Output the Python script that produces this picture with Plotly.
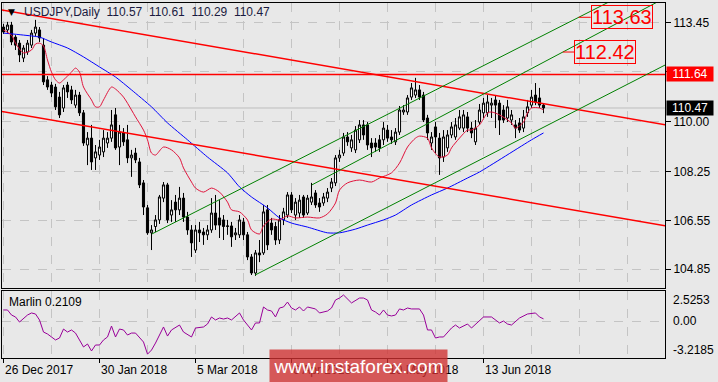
import plotly.graph_objects as go

# ---------------- data ----------------
opens = [113.29,113.19,113.36,112.94,112.73,112.21,112.42,112.66,113.08,113.19,
         112.66,111.45,111.27,111.20,110.85,110.47,111.27,111.10,110.57,110.92,
         110.30,109.18,109.42,108.73,108.83,108.94,109.25,109.42,110.23,109.11,
         109.60,109.36,108.73,108.90,108.59,107.86,106.99,106.12,106.34,106.57,
         107.33,107.79,106.74,107.19,106.92,107.33,106.67,106.22,105.52,106.22,
         106.15,106.05,106.22,106.81,106.64,106.57,106.34,106.36,106.05,106.05,
         106.50,106.05,105.28,104.72,105.42,105.42,106.92,106.46,106.34,105.87,
         106.57,106.74,107.44,106.74,106.81,107.37,106.81,107.19,107.51,107.16,
         107.16,107.33,107.68,107.86,108.73,108.90,109.46,109.08,109.01,109.36,
         109.88,109.88,109.25,109.25,109.36,109.36,109.70,109.46,109.29,109.63,
         110.33,110.33,110.85,110.92,111.10,110.92,110.12,109.25,109.81,109.42,
         108.76,109.08,109.53,109.46,109.77,109.77,110.16,109.77,109.29,109.98,
         110.30,110.30,110.57,110.75,110.64,110.40,110.12,110.05,109.88,109.95,
         109.77,110.30,110.57,110.92,110.82,110.57]
highs = [113.40,113.47,113.47,113.01,112.84,112.66,112.84,113.19,113.54,113.29,
         112.91,111.58,111.38,111.31,111.03,111.27,111.38,111.24,111.10,111.03,
         110.40,109.63,109.88,109.18,109.36,109.70,109.63,110.40,110.47,109.88,
         109.77,109.88,109.01,109.08,108.73,107.96,107.09,106.39,106.74,107.44,
         107.89,107.86,107.26,107.44,107.72,107.51,106.85,106.39,106.39,106.50,
         106.29,106.39,107.33,107.44,107.26,106.74,106.57,106.50,106.29,106.74,
         106.64,106.15,105.38,105.52,105.87,107.09,107.09,106.64,106.50,106.74,
         106.99,107.54,107.54,107.33,107.44,107.44,107.44,107.86,107.61,107.33,
         107.51,107.68,108.03,108.83,109.01,109.60,109.63,109.53,109.84,110.05,
         110.05,109.98,109.42,109.42,109.53,109.98,109.88,109.70,109.77,110.54,
         110.57,110.92,111.34,111.52,111.27,111.03,110.23,109.63,109.98,109.60,
         109.70,109.70,109.98,110.12,110.40,110.40,110.33,109.98,110.05,110.61,
         110.82,110.92,110.82,110.92,110.75,110.57,110.75,110.40,110.05,110.12,
         110.40,110.75,111.10,111.34,111.17,110.61]
lows = [113.05,113.08,112.66,112.49,112.07,112.07,112.32,112.56,112.98,112.77,
        111.27,111.10,110.85,110.40,110.12,110.33,110.82,110.61,110.47,110.19,
        109.15,108.48,108.31,108.31,108.66,108.76,109.08,109.29,109.01,108.48,
        109.15,108.55,108.07,108.55,107.68,106.74,106.05,105.52,106.15,106.43,
        107.19,106.46,106.50,106.50,106.74,106.50,106.05,105.28,105.42,105.80,
        105.70,105.87,106.12,106.22,105.94,105.87,106.05,105.63,105.87,105.94,
        105.87,105.17,104.65,104.62,105.10,105.35,105.52,106.05,105.70,105.73,
        106.39,106.64,106.81,106.57,106.64,106.64,106.74,107.09,106.99,106.85,
        107.06,107.19,107.54,107.75,108.59,108.80,109.15,108.94,108.90,109.25,
        109.36,109.01,108.76,108.94,108.94,109.18,109.29,109.22,109.18,109.53,
        110.23,110.23,110.75,110.82,110.75,109.98,109.36,109.01,108.90,108.14,
        108.59,108.94,109.42,109.36,109.70,109.63,109.63,109.42,109.18,109.88,
        110.12,110.16,110.12,109.77,109.53,109.95,109.98,109.88,109.42,109.60,
        109.63,110.16,110.47,110.57,110.47,110.29]
closes = [113.12,113.36,112.77,112.66,112.32,112.56,112.73,113.08,113.29,112.91,
          111.38,111.20,110.99,110.51,110.23,111.17,111.03,110.75,110.92,110.30,
          109.25,109.42,108.59,108.94,109.11,109.42,109.42,109.88,109.08,109.63,
          109.29,108.73,108.83,108.66,107.79,107.02,106.12,106.22,106.57,107.37,
          107.79,106.57,106.92,106.92,107.33,106.67,106.22,105.77,106.22,106.12,
          106.05,106.22,106.81,106.39,106.39,106.34,106.36,105.98,106.12,106.57,
          106.05,105.28,104.72,105.42,105.35,106.85,105.70,106.22,105.87,106.57,
          106.85,107.44,106.92,107.19,107.26,106.74,107.33,107.37,107.09,107.02,
          107.37,107.54,107.89,108.73,108.83,109.46,109.29,109.36,109.70,109.88,
          109.53,109.18,109.08,109.11,109.08,109.77,109.42,109.36,109.63,110.40,
          110.40,110.82,111.17,111.10,110.85,110.05,109.60,109.46,109.46,108.73,
          109.46,109.53,109.81,109.88,110.16,110.23,109.77,109.60,109.77,110.40,
          110.64,110.68,110.64,110.57,110.05,110.05,110.51,110.23,109.77,109.70,
          110.16,110.51,110.85,110.68,110.57,110.47]
bars = list(range(len(opens)))

ma_fast_idx = [0,2,3,5,7,8,9,10,11,12,13,14,15,17,18,19,20,22,23,24,25,27,28,30,32,33,35,36,37,38,
               40,42,44,45,47,48,50,52,54,56,57,59,61,62,64,65,67,69,71,73,76,79,81,83,84,86,89,92,94,97,
               99,101,103,104,106,107,109,111,112,114,116,117,119,121,122,124,127,128,130,131,132,134,135]
ma_fast = [113.19,113.01,112.73,112.39,112.49,112.70,112.73,112.63,112.14,111.72,
           111.45,111.34,111.45,111.72,111.86,111.72,111.20,110.75,110.51,110.51,
           110.75,111.20,111.13,110.85,110.40,110.16,109.70,109.36,108.90,108.83,
           109.11,109.01,108.73,108.38,107.89,107.68,107.54,107.68,107.54,107.19,
           106.92,106.85,106.57,106.22,106.08,106.36,106.60,106.57,106.71,106.64,
           106.67,106.64,106.78,107.16,107.61,107.86,107.96,107.89,108.03,108.21,
           108.55,109.11,109.42,109.49,109.42,109.08,108.76,108.83,109.08,109.42,
           109.70,109.70,109.88,110.30,110.33,110.23,109.95,109.77,109.98,110.30,
           110.47,110.47,110.40]

ma_slow_idx = [0,5,9,12,16,20,24,28,32,37,41,46,51,56,59,62,66,69,72,76,81,84,88,91,95,98,102,107,111,116,119,132,135]
ma_slow = [113.08,113.01,112.94,112.77,112.56,112.25,111.90,111.55,111.10,110.51,
           109.95,109.36,108.76,108.21,107.72,107.37,106.99,106.64,106.46,106.32,
           106.12,106.12,106.25,106.39,106.57,106.74,107.09,107.44,107.68,108.03,
           108.24,109.36,109.60]

marlin_idx = [0,1,2,3,4,5,6,7,8,9,10,11,12,13,14,15,16,17,18,
              20,21,22,23,24,25,26,27,28,29,30,31,32,33,35,36,37,38,40,41,42,44,45,47,48,
              50,51,52,53,54,55,56,57,59,60,62,63,64,65,66,67,68,69,70,71,72,73,74,75,76,
              78,79,81,82,83,84,85,87,89,90,91,92,93,94,95,96,97,98,99,100,101,102,
              104,105,106,107,108,109,110,112,113,114,116,117,118,119,120,
              122,123,124,125,126,127,128,129,131,133,134,135]
marlin = [1.07,1.07,0.58,0.39,-0.10,0.29,0.58,0.78,0.68,0.10,-1.07,-1.26,-1.55,-1.84,-1.65,-0.78,-1.07,-0.87,-1.17,
          -2.52,-2.23,-2.91,-2.33,-2.33,-1.84,-1.55,-0.49,-1.55,-0.78,-0.87,-1.36,-1.17,-1.17,
          -2.04,-3.2185,-2.82,-2.14,-0.58,-1.46,-0.87,-0.39,-1.07,-1.55,-0.68,
          -0.58,-0.29,0.39,0.10,0.29,0.19,0.29,0.10,0.78,0.10,
          -0.87,-0.19,-0.19,1.36,1.07,0.97,0.39,1.26,1.36,1.84,1.26,1.07,1.36,0.97,1.36,
          1.17,0.78,0.97,1.26,2.04,2.23,2.5253,1.75,
          2.23,2.23,2.04,1.07,0.87,0.58,1.07,0.58,0.49,0.58,1.17,1.07,1.26,1.17,
          1.17,0.58,-0.87,-0.87,-1.65,-1.55,-1.55,-0.68,-0.39,-0.68,
          -0.29,-0.68,-0.29,0.10,0.39,0.39,0.10,-0.19,0.00,-0.29,-0.39,0.00,0.29,
          0.68,0.78,0.39,0.2109]

# drawn objects: (start bar, start price, end bar, end price)
red_upper = (-1.0, 113.90, 166.0, 109.87)
red_lower = (-1.0, 110.36, 166.0, 106.35)
green_lines = [(37.1, 106.08, 152.0, 114.21),
               (77.1, 107.79, 166.0, 114.35),
               (62.9, 104.65, 166.0, 112.01)]
resistance = 111.64
target_prices = [113.63, 112.42]
target_bar = [154.5, 150.4]
target_line = [0, 1]          # which green line each target belongs to

date_ticks = [0, 24, 48, 72, 96, 120]
date_labels = ["26 Dec 2017", "30 Jan 2018", "5 Mar 2018", "6 Apr 2018", "10 May 2018", "13 Jun 2018"]
grid_bars = list(range(0, 157, 12))
price_ticks = [113.45, 111.725, 110.00, 108.25, 106.55, 104.85]
price_labels = ["113.45", "", "110.00", "108.25", "106.55", "104.85"]
marlin_ticks = [2.5253, 0.00, -3.2185]
marlin_labels = ["2.5253", "0.00", "-3.2185"]

title = "USDJPY,Daily\u00a0\u00a0110.57\u00a0\u00a0110.61\u00a0\u00a0110.29\u00a0\u00a0110.47"

# ---------------- figure ----------------
BG = "#e8e8e8"
GRID = "#c4c4c4"
FONT = "Liberation Sans, Arial, sans-serif"

fig = go.Figure()

fig.add_trace(go.Candlestick(
    x=bars, open=opens, high=highs, low=lows, close=closes,
    increasing=dict(line=dict(color="black", width=1), fillcolor="white"),
    decreasing=dict(line=dict(color="black", width=1), fillcolor="black"),
    whiskerwidth=0, xaxis="x", yaxis="y", hoverinfo="skip"))

fig.add_trace(go.Scatter(x=ma_slow_idx, y=ma_slow, mode="lines",
                         line=dict(color="#0000ff", width=1, shape="spline", smoothing=0.6),
                         xaxis="x", yaxis="y"))
fig.add_trace(go.Scatter(x=ma_fast_idx, y=ma_fast, mode="lines",
                         line=dict(color="#e0143c", width=1, shape="spline", smoothing=0.8),
                         xaxis="x", yaxis="y"))

for (x0, y0, x1, y1) in [red_upper, red_lower]:
    fig.add_trace(go.Scatter(x=[x0, x1], y=[y0, y1], mode="lines",
                             line=dict(color="#ff0000", width=1.5), xaxis="x", yaxis="y"))
fig.add_trace(go.Scatter(x=[-1, 170], y=[resistance, resistance], mode="lines",
                         line=dict(color="#ff0000", width=1.5), xaxis="x", yaxis="y"))
for (x0, y0, x1, y1) in green_lines:
    fig.add_trace(go.Scatter(x=[x0, x1], y=[y0, y1], mode="lines",
                             line=dict(color="#008000", width=1), xaxis="x", yaxis="y"))

# connectors from the channel lines to the target boxes
half_box = 7.7
for p, b, li in zip(target_prices, target_bar, target_line):
    x0, y0, x1, y1 = green_lines[li]
    xs = x0 + (p - y0) * (x1 - x0) / (y1 - y0)
    fig.add_trace(go.Scatter(x=[xs, b - half_box], y=[p, p], mode="lines",
                             line=dict(color="#ff0000", width=1), xaxis="x", yaxis="y"))

fig.add_trace(go.Scatter(x=marlin_idx, y=marlin, mode="lines",
                         line=dict(color="#990099", width=1), xaxis="x2", yaxis="y2"))

# bid line
fig.add_shape(type="line", xref="x", yref="y", x0=-1, x1=170, y0=closes[-1], y1=closes[-1],
              line=dict(color="#bdbdbd", width=1), layer="below")

ann = []
for p, b in zip(target_prices, target_bar):
    ann.append(dict(x=b, y=p, xref="x", yref="y", text=f"{p:.2f}", showarrow=False,
                    font=dict(family=FONT, size=20, color="#ff0000"),
                    bordercolor="#ff0000", borderwidth=1, borderpad=0,
                    xanchor="center", yanchor="middle"))
ann.append(dict(x=1, y=resistance, xref="paper", yref="y", text=f"{resistance:.2f}",
                showarrow=False, font=dict(family=FONT, size=12, color="white"),
                bgcolor="#ff0000", xanchor="left", yanchor="middle", xshift=1,
                width=46, height=14, borderpad=0))
ann.append(dict(x=1, y=closes[-1], xref="paper", yref="y", text=f"{closes[-1]:.2f}",
                showarrow=False, font=dict(family=FONT, size=12, color="white"),
                bgcolor="#000000", xanchor="left", yanchor="middle", xshift=1,
                width=46, height=14, borderpad=0))
ann.append(dict(x=0.006, y=0.9746, xref="paper", yref="paper", text="▼", showarrow=False,
                font=dict(family="DejaVu Sans", size=9, color="black"),
                xanchor="left", yanchor="middle"))
ann.append(dict(x=0.0302, y=0.9746, xref="paper", yref="paper", text=title, showarrow=False,
                font=dict(family=FONT, size=12, color="#1a1a40"),
                xanchor="left", yanchor="middle"))
ann.append(dict(x=0.0075, y=0.1577, xref="paper", yref="paper",
                text=f"Marlin {marlin[-1]:.4f}", showarrow=False,
                font=dict(family=FONT, size=12, color="black"),
                xanchor="left", yanchor="middle"))
for v, t, sh in zip(marlin_ticks, marlin_labels, [-5, 0, 4]):
    ann.append(dict(x=1, y=v, xref="paper", yref="y2", text=t, showarrow=False,
                    font=dict(family=FONT, size=12, color="black"),
                    xanchor="left", yanchor="middle", xshift=6, yshift=sh))
for b, t in zip(date_ticks, date_labels):
    ann.append(dict(x=b, y=0, xref="x2", yref="paper", text=t, showarrow=False,
                    font=dict(family=FONT, size=12, color="black"),
                    xanchor="left", yanchor="top", yshift=-3, xshift=-1))
ann.append(dict(x=0.5377, y=-0.0225, xref="paper", yref="paper", text="www.instaforex.com",
                showarrow=False, font=dict(family=FONT, size=19, color="white"),
                bgcolor="rgba(208,48,48,0.78)", width=177, height=32, borderpad=0,
                xanchor="center", yanchor="middle"))

xcommon = dict(range=[-0.375, 165.375], showgrid=True, gridcolor=GRID, griddash="dash",
               gridwidth=1, zeroline=False, showline=True, mirror=True,
               linecolor="black", linewidth=1, fixedrange=True)

fig.update_layout(
    width=718, height=382, autosize=False,
    margin=dict(l=2, r=53, t=3, b=24),
    paper_bgcolor=BG, plot_bgcolor=BG,
    showlegend=False, boxgap=0.25,
    font=dict(family=FONT, size=12, color="black"),
    xaxis=dict(domain=[0, 1], anchor="y", tickvals=grid_bars, showticklabels=False, ticks="",
               rangeslider=dict(visible=False), **xcommon),
    xaxis2=dict(domain=[0, 1], anchor="y2", matches="x", tickvals=date_ticks,
                ticktext=[""] * len(date_ticks), ticks="outside", ticklen=4, tickcolor="black",
                minor=dict(tickvals=[g for g in grid_bars if g not in date_ticks], showgrid=True,
                           gridcolor=GRID, griddash="dash", ticks=""),
                **xcommon),
    yaxis=dict(domain=[0.1972, 1], anchor="x", side="right", range=[104.198, 114.128],
               tickvals=price_ticks, ticktext=price_labels, ticks="outside", ticklen=5,
               tickcolor="black", showgrid=True, gridcolor=GRID, griddash="dash",
               zeroline=False, showline=True, mirror=True, linecolor="black", linewidth=1,
               fixedrange=True, tickfont=dict(family=FONT, size=12, color="black")),
    yaxis2=dict(domain=[0, 0.1887], anchor="x2", side="right", range=[-3.59, 2.91],
                tickvals=[0], showticklabels=False, ticks="", showgrid=True, gridcolor=GRID,
                griddash="dash", zeroline=False, showline=True, mirror=True,
                linecolor="black", linewidth=1, fixedrange=True),
    annotations=ann,
)

fig.write_html("out.html", config={"displayModeBar": False, "responsive": False},
               post_script="document.body.style.margin='0';document.body.style.padding='0';"
                           "document.body.style.background='" + BG + "';")
